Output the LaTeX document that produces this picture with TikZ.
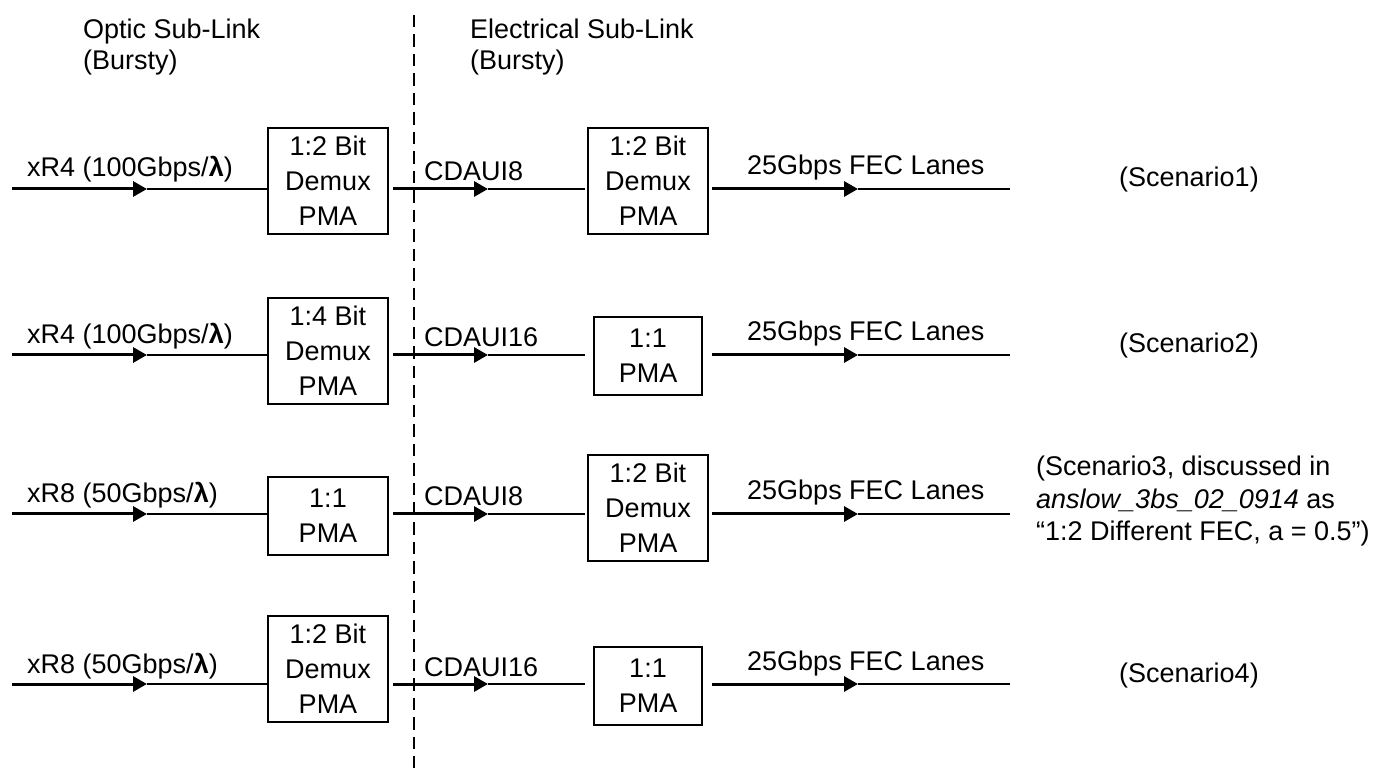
\documentclass[tikz,border=0pt]{standalone}
\usepackage{fontspec}
\setmainfont{Liberation Sans}
\usetikzlibrary{arrows.meta}
\begin{document}
\begin{tikzpicture}[x=1pt,y=-1pt,
  lbl/.style={anchor=base west, inner sep=0pt, font=\fontsize{27}{32}\selectfont},
  blk/.style={draw, line width=1.3pt, minimum width=120pt, minimum height=106pt, inner sep=0pt, align=center, font=\fontsize{27}{35}\selectfont},
  blks/.style={blk, minimum height=78pt},
  narrow/.style={minimum width=108pt},
  wire/.style={line width=3pt, -{Triangle[length=14pt,width=15pt]}},
  wiretail/.style={line width=2.4pt},
  divider/.style={line width=1.3pt, dash pattern=on 12.5pt off 7pt}]
\useasboundingbox (0,0) rectangle (1377,775);

% headers
\node[lbl] (h1a) at (83,39) {Optic Sub-Link};
\node[lbl] (h1b) at (83,70) {(Bursty)};
\node[lbl] (h2a) at (470,39) {Electrical Sub-Link};
\node[lbl] (h2b) at (470,70) {(Bursty)};

% divider
\coordinate (dtop) at (414,15);
\coordinate (dbot) at (414,768);
\draw[divider] (dtop) -- (dbot);

% ---------- Row 1 ----------
\node[blk] (a1) at (328,181) {1:2 Bit\\Demux\\PMA};
\node[blk] (b1) at (648,181) {1:2 Bit\\Demux\\PMA};
\coordinate (i1) at (12,189); \coordinate (t1) at (147,189);
\coordinate (m1) at (393,189); \coordinate (u1) at (488,189); \coordinate (e1) at (585,189);
\coordinate (o1) at (712,189); \coordinate (v1) at (858,189); \coordinate (z1) at (1010,189);
\draw[wire] (i1) -- (t1); \draw[wiretail] (t1) -- (a1.west |- t1);
\draw[wire] (m1) -- (u1); \draw[wiretail] (u1) -- (e1);
\draw[wire] (o1) -- (v1); \draw[wiretail] (v1) -- (z1);
\node[lbl] (l1) at (27,177) {xR4 (100Gbps/{\bfseries λ})};
\node[lbl] (c1) at (424,181) {CDAUI8};
\node[lbl] (f1) at (747,175) {25Gbps FEC Lanes};
\node[lbl] (s1) at (1119,187) {(Scenario1)};

% ---------- Row 2 ----------
\node[blk] (a2) at (328,351) {1:4 Bit\\Demux\\PMA};
\node[blks,narrow] (b2) at (648,356) {1:1\\PMA};
\coordinate (i2) at (12,355); \coordinate (t2) at (147,355);
\coordinate (m2) at (393,355); \coordinate (u2) at (488,355); \coordinate (e2) at (585,355);
\coordinate (o2) at (712,355); \coordinate (v2) at (858,355); \coordinate (z2) at (1010,355);
\draw[wire] (i2) -- (t2); \draw[wiretail] (t2) -- (a2.west |- t2);
\draw[wire] (m2) -- (u2); \draw[wiretail] (u2) -- (e2);
\draw[wire] (o2) -- (v2); \draw[wiretail] (v2) -- (z2);
\node[lbl] (l2) at (27,344) {xR4 (100Gbps/{\bfseries λ})};
\node[lbl] (c2) at (424,347) {CDAUI16};
\node[lbl] (f2) at (747,341) {25Gbps FEC Lanes};
\node[lbl] (s2) at (1119,353) {(Scenario2)};

% ---------- Row 3 ----------
\node[blks] (a3) at (328,516) {1:1\\PMA};
\node[blk] (b3) at (648,508) {1:2 Bit\\Demux\\PMA};
\coordinate (i3) at (12,514); \coordinate (t3) at (147,514);
\coordinate (m3) at (393,514); \coordinate (u3) at (488,514); \coordinate (e3) at (585,514);
\coordinate (o3) at (712,514); \coordinate (v3) at (858,514); \coordinate (z3) at (1010,514);
\draw[wire] (i3) -- (t3); \draw[wiretail] (t3) -- (a3.west |- t3);
\draw[wire] (m3) -- (u3); \draw[wiretail] (u3) -- (e3);
\draw[wire] (o3) -- (v3); \draw[wiretail] (v3) -- (z3);
\node[lbl] (l3) at (27,503) {xR8 (50Gbps/{\bfseries λ})};
\node[lbl] (c3) at (424,506) {CDAUI8};
\node[lbl] (f3) at (747,500) {25Gbps FEC Lanes};
\node[lbl] (s3a) at (1036,476) {(Scenario3, discussed in};
\node[lbl] (s3b) at (1036,508) {\itshape anslow\_3bs\_02\_0914\upshape{} as};
\node[lbl] (s3c) at (1036,540) {“1:2 Different FEC, a = 0.5”)};

% ---------- Row 4 ----------
\node[blk] (a4) at (328,669) {1:2 Bit\\Demux\\PMA};
\node[blks,narrow] (b4) at (648,686) {1:1\\PMA};
\coordinate (i4) at (12,684); \coordinate (t4) at (147,684);
\coordinate (m4) at (393,684); \coordinate (u4) at (488,684); \coordinate (e4) at (585,684);
\coordinate (o4) at (712,684); \coordinate (v4) at (858,684); \coordinate (z4) at (1010,684);
\draw[wire] (i4) -- (t4); \draw[wiretail] (t4) -- (a4.west |- t4);
\draw[wire] (m4) -- (u4); \draw[wiretail] (u4) -- (e4);
\draw[wire] (o4) -- (v4); \draw[wiretail] (v4) -- (z4);
\node[lbl] (l4) at (27,673) {xR8 (50Gbps/{\bfseries λ})};
\node[lbl] (c4) at (424,676) {CDAUI16};
\node[lbl] (f4) at (747,670) {25Gbps FEC Lanes};
\node[lbl] (s4) at (1119,682) {(Scenario4)};
\end{tikzpicture}
\end{document}
